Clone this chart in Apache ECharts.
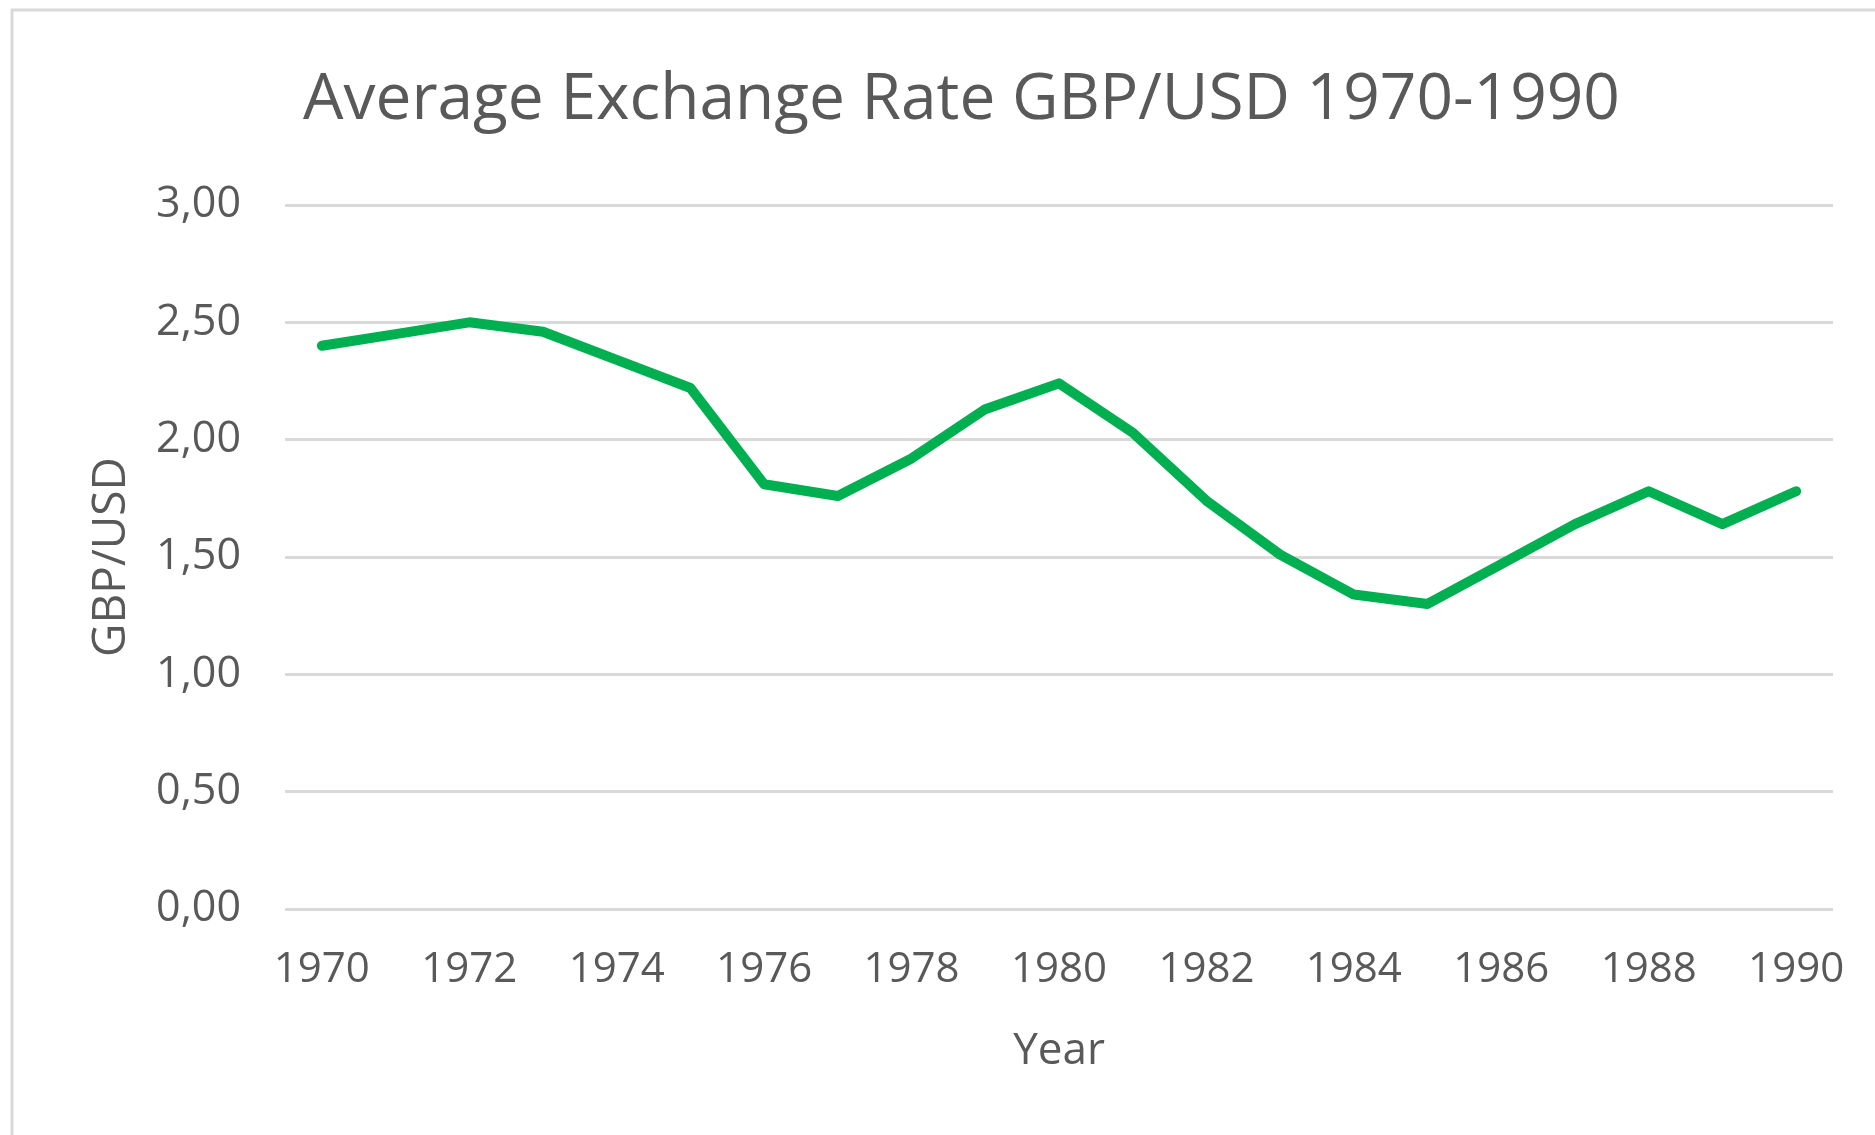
<!DOCTYPE html>
<html>
<head>
<meta charset="utf-8">
<script src="https://cdn.jsdelivr.net/npm/echarts@6/dist/echarts.min.js"></script>
<style>
html,body{margin:0;padding:0;background:#fff;}
#chart{width:1875px;height:1135px;}
</style>
</head>
<body>
<div id="chart"></div>
<script>
var years = ['1970','1971','1972','1973','1974','1975','1976','1977','1978','1979','1980',
             '1981','1982','1983','1984','1985','1986','1987','1988','1989','1990'];
var rates = [2.40, 2.45, 2.50, 2.46, 2.34, 2.22, 1.81, 1.76, 1.92, 2.13, 2.24,
             2.03, 1.74, 1.51, 1.34, 1.30, 1.47, 1.64, 1.78, 1.64, 1.78];
var yMin = 0, yMax = 3, yStep = 0.5;
var titleText = 'Average Exchange Rate GBP/USD 1970-1990';
var yAxisName = 'GBP/USD';
var xAxisName = 'Year';

var font = '"Open Sans", "Noto Sans", sans-serif';
var chart = echarts.init(document.getElementById('chart'));
chart.setOption({
  animation: false,
  backgroundColor: '#ffffff',
  graphic: [{
    type: 'rect',
    shape: {x: 12, y: 10, width: 1950, height: 1250},
    style: {fill: 'none', stroke: '#d9d9d9', lineWidth: 3},
    silent: true, z: -1
  }],
  title: {
    text: titleText,
    left: 298,
    top: 64,
    textStyle: {fontFamily: font, fontSize: 64, fontWeight: 'normal', color: '#595959'}
  },
  grid: {left: 285, right: 42, top: 205, bottom: 226, containLabel: false},
  xAxis: {
    type: 'category',
    data: years,
    boundaryGap: true,
    name: xAxisName,
    nameLocation: 'middle',
    nameGap: 120,
    nameTextStyle: {fontFamily: font, fontSize: 44, color: '#595959'},
    axisLine: {show: false},
    axisTick: {show: false},
    axisLabel: {interval: 1, margin: 40, fontFamily: font, fontSize: 42, color: '#595959'}
  },
  yAxis: {
    type: 'value',
    min: yMin, max: yMax, interval: yStep,
    name: yAxisName,
    nameLocation: 'middle',
    nameGap: 150,
    nameRotate: 90,
    nameTextStyle: {fontFamily: font, fontSize: 46, color: '#595959'},
    axisLine: {show: false},
    axisTick: {show: false},
    splitLine: {lineStyle: {color: '#d9d9d9', width: 3}},
    axisLabel: {
      margin: 44, fontFamily: font, fontSize: 43, color: '#595959',
      formatter: function (v) { return v.toFixed(2).replace('.', ','); }
    }
  },
  series: [{
    type: 'line',
    data: rates,
    symbol: 'none',
    lineStyle: {color: '#00b050', width: 10, cap: 'round', join: 'round'}
  }]
});
</script>
</body>
</html>
